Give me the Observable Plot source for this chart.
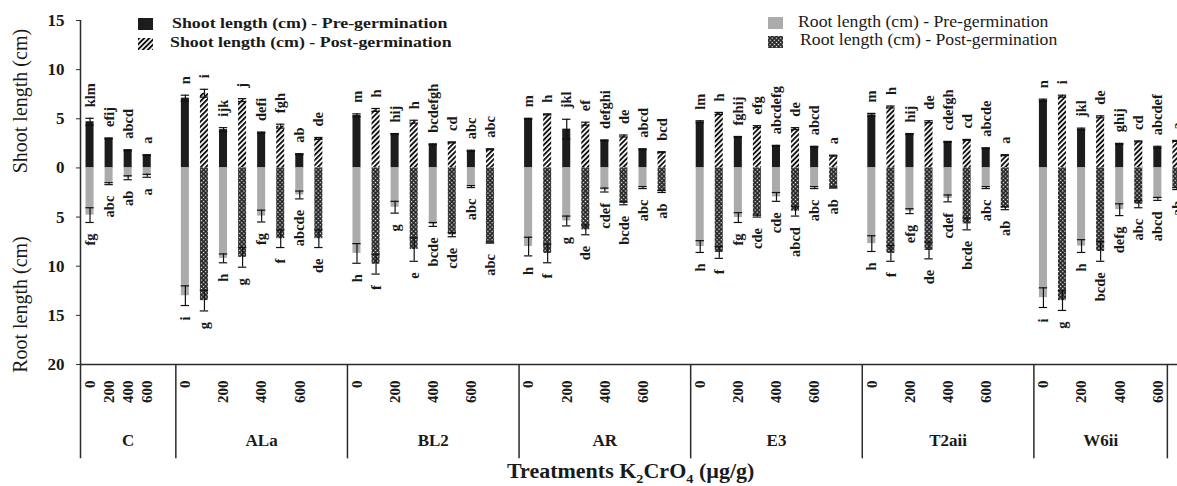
<!DOCTYPE html>
<html><head><meta charset="utf-8">
<script src="https://cdn.jsdelivr.net/npm/d3@7"></script>
<script src="https://cdn.jsdelivr.net/npm/@observablehq/plot@0.6"></script>
<style>
html,body{margin:0;padding:0;background:#fff;overflow:hidden;width:1177px;height:486px}
#wrap{position:relative;width:1177px;height:486px;overflow:hidden}
#wrap svg.main{position:absolute;left:0;top:0;max-width:none !important;height:486px !important}
.leg{position:absolute;font-family:"Liberation Serif","Times New Roman",serif;color:#1a1a1a;white-space:nowrap;line-height:1;transform-origin:0 0}
.sw{position:absolute}
</style></head><body><div id="wrap"></div>
<script>
const groups = ["C","ALa","BL2","AR","E3","T2aii","W6ii"];
const concentrations = ["0","200","400","600"];
const legendLabels = ["Shoot length (cm) - Pre-germination","Shoot length (cm) - Post-germination","Root length (cm) - Pre-germination","Root length (cm) - Post-germination"];
const yTitles = ["Shoot length (cm)","Root length (cm)"];
const yTicks = [-20,-15,-10,-5,0,5,10,15];

const shootPre = [
 [4.7,3.0,1.8,1.3],
 [7.1,3.9,3.6,1.4],
 [5.35,3.45,2.4,1.75],
 [5.0,3.95,2.8,1.9],
 [4.7,3.15,2.25,2.15],
 [5.4,3.45,2.65,2.0],
 [6.9,3.95,2.45,2.1]];
const shootPreErr = [
 [0.35,0.05,0.05,0.05],
 [0.3,0.2,0.05,0.05],
 [0.15,0.05,0.05,0.05],
 [0.05,1.0,0.05,0.05],
 [0.1,0.05,0.05,0.05],
 [0.15,0.05,0.05,0.05],
 [0.1,0.1,0.05,0.1]];
const shootPost = [
 [null,null,null,null],
 [7.6,6.9,4.25,3.0],
 [5.9,4.7,2.6,1.9],
 [5.45,4.5,3.25,1.6],
 [5.55,4.2,4.0,1.25],
 [6.2,4.7,2.85,1.3],
 [7.3,5.2,2.7,2.75]];
const shootPostErr = [
 [null,null,null,null],
 [0.4,0.15,0.2,0.1],
 [0.15,0.15,0.05,0.05],
 [0.05,0.15,0.1,0.05],
 [0.1,0.1,0.1,0.05],
 [0.1,0.1,0.05,0.05],
 [0.1,0.1,0.05,0.05]];
const rootPre = [
 [4.8,1.6,1.0,0.8],
 [13.0,9.2,4.9,2.75],
 [8.7,4.0,5.75,1.9],
 [8.0,5.4,2.25,2.0],
 [8.0,5.05,2.95,2.0],
 [7.7,4.4,3.1,2.0],
 [13.2,7.95,4.25,3.15]];
const rootPreErr = [
 [0.75,0.1,0.2,0.15],
 [1.0,0.45,0.6,0.4],
 [1.0,0.6,0.2,0.1],
 [0.95,0.5,0.2,0.1],
 [0.6,0.5,0.45,0.1],
 [0.8,0.25,0.35,0.1],
 [1.0,0.65,0.6,0.15]];
const rootPost = [
 [null,null,null,null],
 [13.5,9.1,7.2,7.2],
 [9.8,8.3,6.8,7.6],
 [8.7,6.3,3.6,2.4],
 [8.6,4.9,4.4,2.0],
 [8.7,8.4,5.7,4.1],
 [13.5,8.5,3.7,2.1]];
const rootPostErr = [
 [null,null,null,null],
 [1.05,1.0,0.9,0.9],
 [1.0,1.2,0.2,0.05],
 [0.95,0.5,0.15,0.1],
 [0.6,0.1,0.5,0.05],
 [0.8,0.85,0.6,0.15],
 [1.0,1.0,0.35,0.1]];
const shootPreLetters = [
 ["klm","efij","abcd","a"],
 ["n","ijk","defi","ab"],
 ["m","hij","bcdefgh","abc"],
 ["m","jkl","defghi","abcd"],
 ["lm","fghij","abcdefg","abcd"],
 ["m","hij","cdefgh","abcde"],
 ["n","jkl","ghij","abcdef"]];
const shootPostLetters = [
 [null,null,null,null],
 ["i","j","fgh","de"],
 ["h","h","cd","abc"],
 ["h","ef","de","bcd"],
 ["h","efg","de","a"],
 ["h","de","cd","a"],
 ["i","de","cd","a"]];
const rootPreLetters = [
 ["fg","abc","ab","a"],
 ["i","h","fg","abcde"],
 ["h","g","bcde","abc"],
 ["h","g","cdef","abc"],
 ["h","fg","cde","abc"],
 ["h","efg","cdef","abc"],
 ["i","h","defg","abcd"]];
const rootPostLetters = [
 [null,null,null,null],
 ["g","g","f","de"],
 ["f","e","cde","abc"],
 ["f","de","bcde","ab"],
 ["f","cde","abcd","ab"],
 ["f","de","bcde","ab"],
 ["g","bcde","abc","ab"]];

// ---- build table ----
const rows = [];
const spans = [];
let start = 0;
groups.forEach((g, gi) => {
  const hasPost = shootPost[gi].some(v => v != null);
  const n = concentrations.length * (hasPost ? 2 : 1) + 1;
  spans.push({group: g, start, end: start + n});
  concentrations.forEach((c, ci) => {
    ["pre","post"].forEach((phase, pi) => {
      if (phase === "post" && !hasPost) return;
      const post = phase === "post";
      rows.push({
        group: g, conc: c, phase,
        slot: start + (hasPost ? 2*ci + pi : ci),
        shoot: (post ? shootPost : shootPre)[gi][ci],
        shootErr: (post ? shootPostErr : shootPreErr)[gi][ci],
        root: -(post ? rootPost : rootPre)[gi][ci],
        rootErr: (post ? rootPostErr : rootPreErr)[gi][ci],
        shootLetter: (post ? shootPostLetters : shootPreLetters)[gi][ci],
        rootLetter: (post ? rootPostLetters : rootPreLetters)[gi][ci]
      });
    });
  });
  start += n;
});
const totalSlots = start;
// the picture is cropped: the last group's axis stops before its final bar
spans[spans.length-1].end = rows[rows.length-1].slot;
const edges = [0, ...spans.map(s => s.end)];

const pre = rows.filter(d => d.phase === "pre");
const post = rows.filter(d => d.phase === "post");
const caps = rows.flatMap(d => [
  {slot: d.slot, y: d.shoot + d.shootErr}, {slot: d.slot, y: d.shoot - d.shootErr},
  {slot: d.slot, y: d.root - d.rootErr}, {slot: d.slot, y: d.root + d.rootErr}]);

const FONT = '"Liberation Serif","Times New Roman",serif';
const BW = 0.21, CW = 0.22;
const bar = (fill, v) => ({x1: d => d.slot + 0.5 - BW, x2: d => d.slot + 0.5 + BW, y1: 0, y2: v, fill});

const plot = Plot.plot({
  width: 1210, height: 486,
  marginLeft: 80, marginRight: 5, marginTop: 20, marginBottom: 122,
  x: {domain: [0, totalSlots], axis: null},
  y: {domain: [-20, 15], axis: null},
  style: {fontFamily: FONT, background: "#fff", color: "#1a1a1a", maxWidth: "none"},
  marks: [
    Plot.rectY(pre, bar("#1c1c1c", "shoot")),
    Plot.rectY(post, bar("url(#hatch)", "shoot")),
    Plot.rectY(pre, bar("#ababab", "root")),
    Plot.rectY(post, bar("url(#xhatch)", "root")),
    Plot.ruleX(rows, {x: d => d.slot + 0.5, y1: d => d.shoot - d.shootErr, y2: d => d.shoot + d.shootErr, stroke: "#111", strokeWidth: 1.2}),
    Plot.ruleX(rows, {x: d => d.slot + 0.5, y1: d => d.root - d.rootErr, y2: d => d.root + d.rootErr, stroke: "#111", strokeWidth: 1.2}),
    Plot.ruleY(caps, {y: "y", x1: d => d.slot + 0.5 - CW, x2: d => d.slot + 0.5 + CW, stroke: "#111", strokeWidth: 1.2}),
    Plot.text(rows.filter(d => d.shootLetter), {x: d => d.slot + 0.5, y: d => d.shoot + d.shootErr, text: "shootLetter", rotate: -90, textAnchor: "start", dy: -11, fontSize: 14.5, fontWeight: "bold", fill: "#1a1a1a"}),
    Plot.text(rows.filter(d => d.rootLetter), {x: d => d.slot + 0.5, y: d => d.root - d.rootErr, text: "rootLetter", rotate: -90, textAnchor: "end", dy: 11, fontSize: 14.5, fontWeight: "bold", fill: "#1a1a1a"}),
    // axes
    Plot.ruleX([0], {y1: -29.6, y2: 15, stroke: "#2a2a2a", strokeWidth: 1.5}),
    Plot.ruleY([-20], {x1: 0, x2: totalSlots, stroke: "#2a2a2a", strokeWidth: 1.5}),
    Plot.ruleX(edges.slice(1), {y1: -20, y2: -29.6, stroke: "#2a2a2a", strokeWidth: 1.5}),
    Plot.axisY({ticks: yTicks, tickFormat: d => Math.abs(d), tickSize: 4, tickPadding: 12, fontSize: 17, fontWeight: "bold", label: null, stroke: "#2a2a2a"}),
    Plot.text(pre, {x: d => d.slot + 0.5, y: -20, text: "conc", rotate: -90, textAnchor: "end", dy: 16, fontSize: 15, fontWeight: "bold", fill: "#1a1a1a"}),
    Plot.text(spans, {x: d => (d.start + d.end) / 2, y: -20, text: "group", dy: 76, fontSize: 17, fontWeight: "bold", fill: "#1a1a1a"}),
    Plot.text([yTitles[0]], {frameAnchor: "left", y: 6.8, text: d => d, rotate: -90, dx: -60, textAnchor: "middle", fontSize: 20, fill: "#1a1a1a"}),
    Plot.text([yTitles[1]], {frameAnchor: "left", y: -13.9, text: d => d, rotate: -90, dx: -60, textAnchor: "middle", fontSize: 20, fill: "#1a1a1a"})
  ]
});
plot.classList.add("main");
plot.style.maxWidth = "none";
const PATTERNS = `
<pattern id="hatch" patternUnits="userSpaceOnUse" width="3.6" height="3.6" patternTransform="rotate(45)">
 <rect width="3.6" height="3.6" fill="#fff"/><rect width="1.9" height="3.6" fill="#111"/></pattern>
<pattern id="xhatch" patternUnits="userSpaceOnUse" width="3" height="3" patternTransform="rotate(45)">
 <rect width="3" height="3" fill="#222"/><rect x="0.9" y="0.9" width="1.3" height="1.3" fill="#fff"/></pattern>`;
d3.select(plot).insert("defs", ":first-child").html(PATTERNS);
const wrap = document.getElementById("wrap");
wrap.appendChild(plot);

// legends & x title (overlay)
function swatch(left, top, fill) {
  const s = d3.select(wrap).append("svg").attr("class", "sw").attr("width", 15).attr("height", 12)
    .style("left", left + "px").style("top", top + "px");
  s.append("rect").attr("width", 15).attr("height", 12).attr("fill", fill);
}
function label(left, top, text, size, weight, sx) {
  d3.select(wrap).append("div").attr("class", "leg").style("left", left + "px").style("top", top + "px")
    .style("font-size", size + "px").style("font-weight", weight)
    .style("transform", `scaleX(${sx})`).text(text);
}
swatch(138, 18, "#1c1c1c"); label(172, 16, legendLabels[0], 15, "bold", 1.19);
swatch(138, 38, "url(#hatch)"); label(170, 35, legendLabels[1], 15, "bold", 1.19);
swatch(768, 17, "#ababab"); label(798, 13, legendLabels[2], 17, "normal", 1.04);
swatch(768, 36, "url(#xhatch)"); label(800, 31, legendLabels[3], 17, "normal", 1.04);
d3.select(wrap).append("div").attr("class", "leg")
  .style("left", "507px").style("top", "461px").style("transform", "scaleX(1.1)")
  .style("font-size", "20px").style("font-weight", "bold")
  .html("Treatments K<sub style='font-size:13px'>2</sub>CrO<sub style='font-size:13px'>4</sub> (µg/g)");
</script></body></html>
